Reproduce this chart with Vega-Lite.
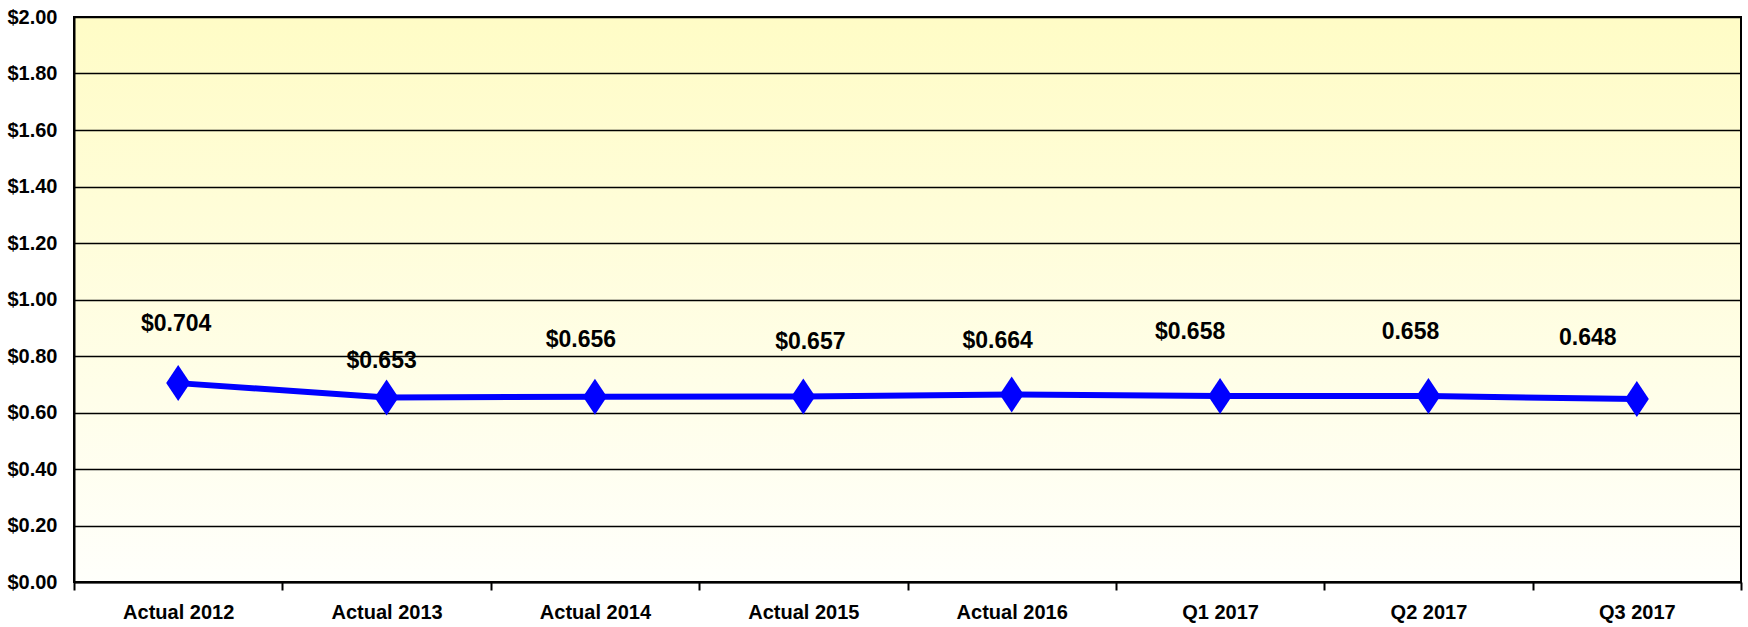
{
  "$schema": "https://vega.github.io/schema/vega-lite/v6.json",
  "width": 1667,
  "height": 565,
  "autosize": {"type": "none"},
  "padding": {"left": 74, "top": 17, "right": 7, "bottom": 45},
  "background": "white",
  "config": {
    "font": "Liberation Sans, Arial, sans-serif",
    "view": {
      "stroke": "black",
      "strokeWidth": 2,
      "fill": {"gradient": "linear", "x1": 0, "y1": 0, "x2": 0, "y2": 1,
        "stops": [{"offset": 0, "color": "#FFFCC6"}, {"offset": 1, "color": "#FFFFFB"}]}
    },
    "axis": {
      "labelFont": "Liberation Sans, Arial, sans-serif",
      "labelFontWeight": "bold",
      "labelColor": "black",
      "domainColor": "black",
      "domainWidth": 2,
      "tickColor": "black",
      "tickWidth": 2,
      "gridColor": "black",
      "gridWidth": 1.5,
      "gridOpacity": 1,
      "title": null
    }
  },
  "data": {
    "values": [
      {"cat": "Actual 2012", "value": 0.704, "label": "$0.704"},
      {"cat": "Actual 2013", "value": 0.653, "label": "$0.653"},
      {"cat": "Actual 2014", "value": 0.656, "label": "$0.656"},
      {"cat": "Actual 2015", "value": 0.657, "label": "$0.657"},
      {"cat": "Actual 2016", "value": 0.664, "label": "$0.664"},
      {"cat": "Q1 2017", "value": 0.658, "label": "$0.658"},
      {"cat": "Q2 2017", "value": 0.658, "label": "0.658"},
      {"cat": "Q3 2017", "value": 0.648, "label": "0.648"}
    ]
  },
  "encoding": {
    "x": {
      "field": "cat", "type": "nominal", "sort": null,
      "scale": {"paddingInner": 0, "paddingOuter": 0},
      "axis": {"labelAngle": 0, "labelFontSize": 20, "tickBand": "extent", "tickSize": 8, "labelPadding": 12, "grid": false}
    },
    "y": {
      "field": "value", "type": "quantitative",
      "scale": {"domain": [0, 2], "nice": false, "zero": true},
      "axis": {"values": [0, 0.2, 0.4, 0.6, 0.8, 1.0, 1.2, 1.4, 1.6, 1.8, 2.0], "format": "$.2f", "labelFontSize": 20, "ticks": false, "labelPadding": 17, "grid": true}
    }
  },
  "layer": [
    {"mark": {"type": "line", "color": "#0000FF", "strokeWidth": 6}},
    {"mark": {"type": "point", "shape": "M0,-1.5L1,0L0,1.5L-1,0Z", "filled": true, "opacity": 1, "color": "#0000FF", "size": 576}},
    {"transform": [{"filter": "datum.cat == 'Actual 2012'"}], "mark": {"type": "text", "fontSize": 23, "fontWeight": "bold", "color": "black", "baseline": "middle", "dx": -2, "dy": -59}, "encoding": {"text": {"field": "label"}}},
    {"transform": [{"filter": "datum.cat == 'Actual 2013'"}], "mark": {"type": "text", "fontSize": 23, "fontWeight": "bold", "color": "black", "baseline": "middle", "dx": -5, "dy": -37}, "encoding": {"text": {"field": "label"}}},
    {"transform": [{"filter": "datum.cat == 'Actual 2014'"}], "mark": {"type": "text", "fontSize": 23, "fontWeight": "bold", "color": "black", "baseline": "middle", "dx": -14, "dy": -57}, "encoding": {"text": {"field": "label"}}},
    {"transform": [{"filter": "datum.cat == 'Actual 2015'"}], "mark": {"type": "text", "fontSize": 23, "fontWeight": "bold", "color": "black", "baseline": "middle", "dx": 7, "dy": -54}, "encoding": {"text": {"field": "label"}}},
    {"transform": [{"filter": "datum.cat == 'Actual 2016'"}], "mark": {"type": "text", "fontSize": 23, "fontWeight": "bold", "color": "black", "baseline": "middle", "dx": -14, "dy": -53}, "encoding": {"text": {"field": "label"}}},
    {"transform": [{"filter": "datum.cat == 'Q1 2017'"}], "mark": {"type": "text", "fontSize": 23, "fontWeight": "bold", "color": "black", "baseline": "middle", "dx": -30, "dy": -64}, "encoding": {"text": {"field": "label"}}},
    {"transform": [{"filter": "datum.cat == 'Q2 2017'"}], "mark": {"type": "text", "fontSize": 23, "fontWeight": "bold", "color": "black", "baseline": "middle", "dx": -18, "dy": -64}, "encoding": {"text": {"field": "label"}}},
    {"transform": [{"filter": "datum.cat == 'Q3 2017'"}], "mark": {"type": "text", "fontSize": 23, "fontWeight": "bold", "color": "black", "baseline": "middle", "dx": -49, "dy": -61}, "encoding": {"text": {"field": "label"}}}
  ]
}
